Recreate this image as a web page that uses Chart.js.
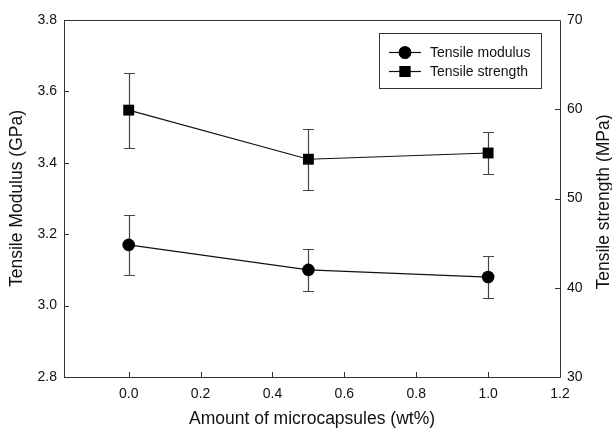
<!DOCTYPE html>
<html>
<head>
<meta charset="utf-8">
<script src="https://cdn.jsdelivr.net/npm/chart.js@4/dist/chart.umd.min.js"></script>
<style>
  html, body { margin: 0; padding: 0; background: #fff; }
</style>
</head>
<body>
<canvas id="myChart" width="612" height="430"></canvas>
<script>
// values
const amounts = [0.0, 0.5, 1.0];
const modulus = [3.17, 3.10, 3.08];
const modulusErr = [0.083, 0.058, 0.059];
const strength = [59.9, 54.4, 55.1];
const strengthErr = [4.2, 3.4, 2.3];

const xTicks = [0.0, 0.2, 0.4, 0.6, 0.8, 1.0, 1.2];
const leftTicks = [2.8, 3.0, 3.2, 3.4, 3.6, 3.8];
const rightTicks = [30, 40, 50, 60, 70];

const rightTitle = 'Tensile strength (MPa)';

const FONT = "'Liberation Sans', Arial, sans-serif";
const INK = '#111';

function setTicks(list) {
  return function (scale) {
    scale.ticks = list.map(v => ({ value: v }));
  };
}

// frame, inward tick marks, error bars, legend and right title
const framePlugin = {
  id: 'frame',
  beforeDatasetsDraw(chart) {
    const ctx = chart.ctx;
    const a = chart.chartArea;
    const xs = chart.scales.x, yl = chart.scales.y, yr = chart.scales.y1;
    ctx.save();
    ctx.strokeStyle = '#333';
    ctx.lineWidth = 1;
    ctx.beginPath();
    ctx.rect(Math.round(a.left) + 0.5, Math.round(a.top) + 0.5,
             Math.round(a.right - a.left), Math.round(a.bottom - a.top));
    ctx.stroke();

    ctx.beginPath();
    xTicks.forEach(v => {
      const px = Math.round(xs.getPixelForValue(v)) + 0.5;
      ctx.moveTo(px, a.bottom);
      ctx.lineTo(px, a.bottom - 5);
    });
    leftTicks.forEach(v => {
      const py = Math.round(yl.getPixelForValue(v)) + 0.5;
      ctx.moveTo(a.left, py);
      ctx.lineTo(a.left + 5, py);
    });
    rightTicks.forEach(v => {
      const py = Math.round(yr.getPixelForValue(v)) + 0.5;
      ctx.moveTo(a.right, py);
      ctx.lineTo(a.right - 5, py);
    });
    ctx.stroke();

    // error bars
    ctx.strokeStyle = '#444';
    ctx.lineWidth = 1.2;
    const bars = [[yl, modulus, modulusErr], [yr, strength, strengthErr]];
    bars.forEach(([sc, vals, errs]) => {
      ctx.beginPath();
      vals.forEach((v, i) => {
        const px = Math.round(xs.getPixelForValue(amounts[i])) + 0.5;
        const top = Math.round(sc.getPixelForValue(v + errs[i])) + 0.5;
        const bot = Math.round(sc.getPixelForValue(v - errs[i])) + 0.5;
        ctx.moveTo(px, top); ctx.lineTo(px, bot);
        ctx.moveTo(px - 5.5, top); ctx.lineTo(px + 5.5, top);
        ctx.moveTo(px - 5.5, bot); ctx.lineTo(px + 5.5, bot);
      });
      ctx.stroke();
    });
    ctx.restore();
  },
  afterDraw(chart) {
    const ctx = chart.ctx;
    const a = chart.chartArea;
    const bx = a.right - 181, by = a.top + 13, bw = 162, bh = 55;
    ctx.save();
    ctx.strokeStyle = '#333';
    ctx.lineWidth = 1;
    ctx.strokeRect(Math.round(bx) + 0.5, Math.round(by) + 0.5, bw, bh);
    ctx.font = '14px ' + FONT;
    ctx.textBaseline = 'middle';
    chart.data.datasets.forEach((ds, i) => {
      const cy = by + 19 + i * 19;
      const lx = bx + 10;
      ctx.strokeStyle = INK;
      ctx.lineWidth = 1.2;
      ctx.beginPath();
      ctx.moveTo(lx, cy + 0.5); ctx.lineTo(lx + 32, cy + 0.5);
      ctx.stroke();
      Chart.helpers.drawPoint(ctx, {
        pointStyle: ds.pointStyle, radius: ds.pointRadius, borderWidth: 0, rotation: 0
      }, lx + 16, cy + 0.5);
      ctx.fillStyle = '#000';
      ctx.fill();
      ctx.fillStyle = '#111';
      ctx.fillText(ds.label, bx + 51, cy + 1);
    });

    // right axis title, reading bottom to top like the left one
    ctx.translate(604, 202);
    ctx.rotate(-Math.PI / 2);
    ctx.font = '17.5px ' + FONT;
    ctx.fillStyle = '#111';
    ctx.textAlign = 'center';
    ctx.textBaseline = 'middle';
    ctx.fillText(rightTitle, 0, 0);
    ctx.restore();
  }
};

const ctx = document.getElementById('myChart').getContext('2d');
const myChart = new Chart(ctx, {
  type: 'scatter',
  data: {
    datasets: [
      {
        label: 'Tensile modulus',
        data: amounts.map((x, i) => ({ x: x, y: modulus[i] })),
        yAxisID: 'y',
        showLine: true,
        borderColor: INK,
        borderWidth: 1.2,
        backgroundColor: '#000',
        pointStyle: 'circle',
        pointRadius: 6.3,
        pointBorderWidth: 0
      },
      {
        label: 'Tensile strength',
        data: amounts.map((x, i) => ({ x: x, y: strength[i] })),
        yAxisID: 'y1',
        showLine: true,
        borderColor: INK,
        borderWidth: 1.2,
        backgroundColor: '#000',
        pointStyle: 'rect',
        pointRadius: 7.7,
        pointBorderWidth: 0
      }
    ]
  },
  options: {
    responsive: false,
    animation: false,
    events: [],
    layout: { padding: { top: 20, left: 0, right: 0, bottom: 0 } },
    plugins: { legend: { display: false }, tooltip: { enabled: false } },
    scales: {
      x: {
        type: 'linear',
        min: -0.18,
        max: 1.2,
        afterBuildTicks: setTicks(xTicks),
        afterFit(scale) { scale.height = 53; },
        grid: { display: false, drawTicks: false },
        border: { display: false },
        ticks: {
          padding: 9,
          color: '#111',
          font: { family: FONT, size: 14 },
          callback: v => v.toFixed(1)
        },
        title: {
          display: true,
          text: 'Amount of microcapsules (wt%)',
          color: '#111',
          font: { family: FONT, size: 17.5 },
          padding: { top: 4, bottom: 0 }
        }
      },
      y: {
        position: 'left',
        min: 2.8,
        max: 3.8,
        afterBuildTicks: setTicks(leftTicks),
        afterFit(scale) { scale.width = 64; },
        grid: { display: false, drawTicks: false },
        border: { display: false },
        ticks: {
          padding: 7,
          color: '#111',
          font: { family: FONT, size: 14 },
          callback: v => v.toFixed(1)
        },
        title: {
          display: true,
          text: 'Tensile Modulus (GPa)',
          color: '#111',
          font: { family: FONT, size: 17.5 },
          padding: { top: 7, bottom: 0 }
        }
      },
      y1: {
        position: 'right',
        min: 30,
        max: 70,
        afterBuildTicks: setTicks(rightTicks),
        afterFit(scale) { scale.width = 52; },
        grid: { display: false, drawTicks: false },
        border: { display: false },
        ticks: {
          padding: 7,
          color: '#111',
          font: { family: FONT, size: 14 },
          callback: v => String(v)
        },
        title: { display: false }
      }
    }
  },
  plugins: [framePlugin]
});
</script>
</body>
</html>
